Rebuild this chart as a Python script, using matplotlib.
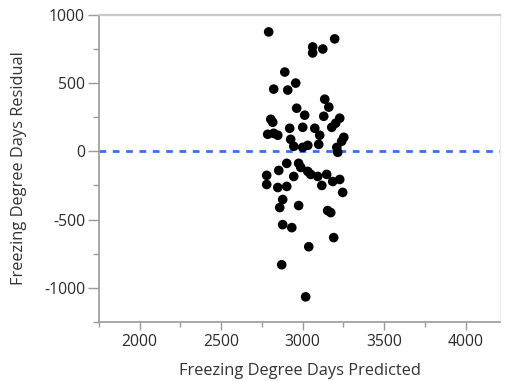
import matplotlib
matplotlib.use("Agg")
import matplotlib.pyplot as plt
from matplotlib.ticker import MultipleLocator

# Predicted freezing degree days and the residuals of the fit
predicted = [
    2791, 3061, 3061, 3123, 3196, 2890, 2957, 2822, 2908, 2963,
    3135, 3160, 3012, 3129, 2804, 2816, 3227, 3202, 3178, 2920,
    3000, 3074, 2785, 2822, 2847, 3104, 3252, 3239, 2926, 2945,
    3000, 3031, 3098, 3209, 3215, 2902, 2975, 2988, 2853, 2779,
    2945, 3031, 3049, 3092, 3147, 3184, 3227, 3117, 2779, 2847,
    2902, 3245, 2877, 2859, 2975, 3153, 3172, 2877, 2933, 3190,
    3037, 2871, 3018,
]
residual = [
    875, 765, 721, 750, 824, 581, 500, 456, 449, 316,
    382, 324, 265, 257, 235, 213, 243, 206, 176, 169,
    176, 169, 125, 132, 118, 118, 103, 74, 88, 37,
    29, 44, 51, 29, -7, -88, -88, -118, -140, -176,
    -184, -147, -169, -184, -169, -221, -206, -250, -243, -265,
    -257, -301, -353, -412, -397, -434, -449, -537, -559, -632,
    -699, -831, -1066,
]

x_ticks = [2000, 2500, 3000, 3500, 4000]
y_ticks = [-1000, -500, 0, 500, 1000]

plt.rcParams["font.family"] = ["Open Sans", "DejaVu Sans"]
plt.rcParams["axes.unicode_minus"] = False

fig = plt.figure(figsize=(5.05, 3.81), dpi=100)
ax = fig.add_axes([0.196, 0.155, 0.794, 0.806])

ax.scatter(predicted, residual, s=48, color="black", edgecolors="none", zorder=3)
ax.axhline(0, color="#3c6fe6", lw=2.0, dashes=(2.4, 2.4), zorder=2, clip_on=False)

ax.set_xlim(1750, 4210)
ax.set_ylim(-1250, 1000)
ax.set_xticks(x_ticks)
ax.set_yticks(y_ticks)
ax.xaxis.set_minor_locator(MultipleLocator(250))
ax.yaxis.set_minor_locator(MultipleLocator(250))

spine_color = "#9a9a9a"
for side in ("left", "bottom"):
    ax.spines[side].set_color(spine_color)
    ax.spines[side].set_linewidth(1.2)
ax.spines["top"].set_color("#c8c8c8")
ax.spines["top"].set_linewidth(1.6)
ax.spines["right"].set_color("#ececec")
ax.spines["right"].set_linewidth(1.0)

ax.tick_params(axis="both", which="both", colors=spine_color, labelcolor="#2b2b2b",
               labelsize=11.3, width=1.0)
ax.tick_params(axis="y", which="major", length=8, pad=2)
ax.tick_params(axis="y", which="minor", length=4)
ax.tick_params(axis="x", which="major", length=6, pad=3)
ax.tick_params(axis="x", which="minor", length=3.5)

ax.set_xlabel("Freezing Degree Days Predicted", fontsize=11.8, color="#333333", labelpad=9)
ax.set_ylabel("Freezing Degree Days Residual", fontsize=11.8, color="#333333")
ax.yaxis.set_label_coords(-0.18, 0.5)

fig.savefig("out.png", dpi=100)
